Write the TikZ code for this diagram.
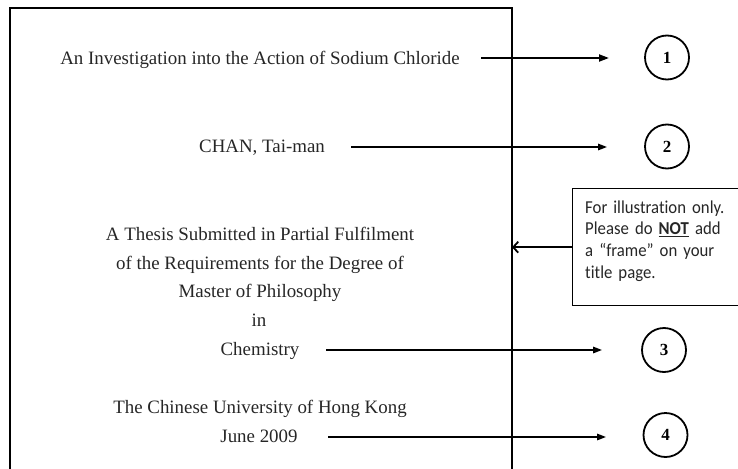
\documentclass[tikz,border=0pt]{standalone}
\usepackage{fontspec}
\setmainfont{Liberation Serif}
\newfontfamily\notefont[Ligatures=NoCommon,FakeStretch=0.92]{Carlito}
\usetikzlibrary{arrows.meta}
\tikzset{
  serif/.style={inner sep=0pt, anchor=base, font=\fontsize{18.9}{22}\selectfont, text=black!85},
  circ/.style={draw, circle, line width=1.8pt, minimum size=44pt, inner sep=0pt, font=\fontsize{17}{18}\selectfont\bfseries},
  thickarrow/.style={line width=2pt, -{Triangle[length=10pt,width=7pt]}},
  arrowline/.style={line width=1.5pt, -{Triangle[length=9pt,width=6.5pt]}},
  notebox/.style={draw, line width=1.4pt, inner sep=0pt},
  barb/.style={line width=1.5pt, -{Straight Barb[length=5pt,width=11pt,line width=1.8pt]}},
  frameline/.style={line width=1.8pt}
}
\begin{document}
\begin{tikzpicture}[x=1pt,y=-1pt]
\useasboundingbox (0,0) rectangle (738,468);
\clip (0,0) rectangle (738,468);
% frame
\draw[frameline] (10,480) -- (10,8) -- (512,8) -- (512,480);
\coordinate (fr) at (512,248);
% texts
\node[serif] (t1) at (260,65) {An Investigation into the Action of Sodium Chloride};
\node[serif] (t2) at (262,152) {CHAN, Tai-man};
\node[serif] (t3) at (260,240) {A Thesis Submitted in Partial Fulfilment};
\node[serif] (t4) at (260,269) {of the Requirements for the Degree of};
\node[serif] (t5) at (260,297) {Master of Philosophy};
\node[serif] (t6) at (259,326) {in};
\node[serif] (t7) at (260,355) {Chemistry};
\node[serif] (t8) at (260,413) {The Chinese University of Hong Kong};
\node[serif] (t9) at (259,442) {June 2009};
% circles
\node[circ] (c1) at (667,57.5) {1};
\node[circ] (c2) at (667,146.5) {2};
\node[circ] (c3) at (664,350) {3};
\node[circ] (c4) at (665.5,435) {4};
% arrow ends
\coordinate (s1) at (481,58);  \coordinate (e1) at (609,58);
\coordinate (s2) at (351,147); \coordinate (e2) at (607,147);
\coordinate (s3) at (326,350); \coordinate (e3) at (602,350);
\coordinate (s4) at (328,437); \coordinate (e4) at (606,437);
\draw[thickarrow] (s1) -- (e1);
\draw[arrowline] (s2) -- (e2);
\draw[arrowline] (s3) -- (e3);
\draw[arrowline] (s4) -- (e4);
% note box
\node[notebox, minimum width=176pt, minimum height=117pt, anchor=north west] (note) at (572,188) {};
\node[inner sep=0pt, anchor=base west, text width=150pt, align=left,
      font=\notefont\fontsize{18.2}{21.8}\selectfont, text=black!85] (nt) at (585,213)
  {For illustration only.\\Please do \underline{\textbf{NOT}} add\\a “frame” on your\\title page.};
\draw[barb] (note.west) -- (note.west -| fr);
\end{tikzpicture}
\end{document}
